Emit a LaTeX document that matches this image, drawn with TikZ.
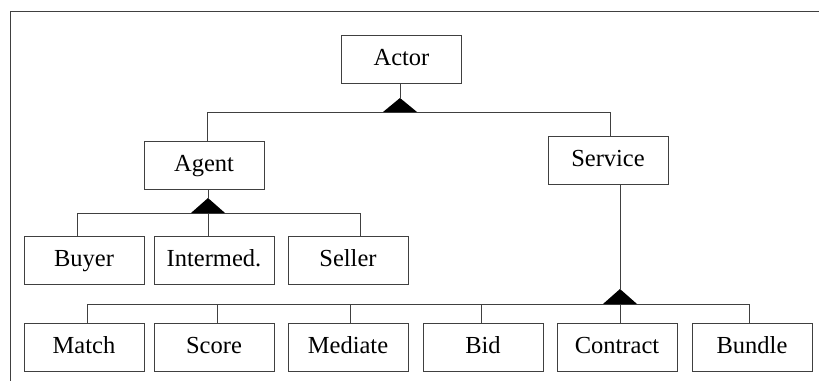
\documentclass[tikz,border=0pt]{standalone}
\usepackage{fontspec}
\setmainfont{Liberation Serif}
\begin{document}
\begin{tikzpicture}[x=1pt,y=-1pt,
  ln/.style={draw=black!75,line width=0.9pt},
  box/.style={ln,rectangle,minimum width=120pt,minimum height=48pt,inner sep=0pt,
    text height=16pt,text depth=4pt,font=\fontsize{24.5}{28}\selectfont},
  tri/.style={fill=black,draw=none}]
\useasboundingbox (0,0) rectangle (819,381);
\fill[white] (0,0) rectangle (819,381);
\draw[ln] (819,11) -- (10,11) -- (10,381);
% nodes
\node[box] (actor) at (401.5,59) {Actor};
\node[box] (agent) at (204,165) {Agent};
\node[box] (service) at (608,160) {Service};
\node[box] (buyer) at (84,260.5) {Buyer};
\node[box] (intermed) at (214,260.5) {Intermed.};
\node[box] (seller) at (348,260.5) {Seller};
\node[box] (match) at (84,347.5) {Match};
\node[box] (score) at (214,347.5) {Score};
\node[box] (mediate) at (348,347.5) {Mediate};
\node[box] (bid) at (483,347.5) {Bid};
\node[box] (contract) at (617,347.5) {Contract};
\node[box] (bundle) at (752,347.5) {Bundle};
% junctions
\coordinate (ja) at (400,98);
\coordinate (jg) at (208,198);
\coordinate (js) at (620,289);
% actor
\draw[ln] (actor.south -| ja) -- (ja);
\draw[ln] (207,112) -- (610,112);
\draw[ln] (207,112) -- (agent.north -| 207,0);
\draw[ln] (610,112) -- (service.north -| 610,0);
\fill[tri] (ja) -- (417,112) -- (383,112) -- cycle;
% agent
\draw[ln] (agent.south -| jg) -- (jg);
\draw[ln] (77,213) -- (360,213);
\draw[ln] (77,213) -- (buyer.north -| 77,0);
\draw[ln] (jg |- 0,213) -- (intermed.north -| jg);
\draw[ln] (360,213) -- (seller.north -| 360,0);
\fill[tri] (jg) -- (225,213) -- (191,213) -- cycle;
% service
\draw[ln] (service.south -| js) -- (js);
\draw[ln] (87,304) -- (749,304);
\draw[ln] (87,304) -- (match.north -| 87,0);
\draw[ln] (217,304) -- (score.north -| 217,0);
\draw[ln] (350,304) -- (mediate.north -| 350,0);
\draw[ln] (481,304) -- (bid.north -| 481,0);
\draw[ln] (js |- 0,304) -- (contract.north -| js);
\draw[ln] (749,304) -- (bundle.north -| 749,0);
\fill[tri] (js) -- (637,304) -- (603,304) -- cycle;
\end{tikzpicture}
\end{document}
